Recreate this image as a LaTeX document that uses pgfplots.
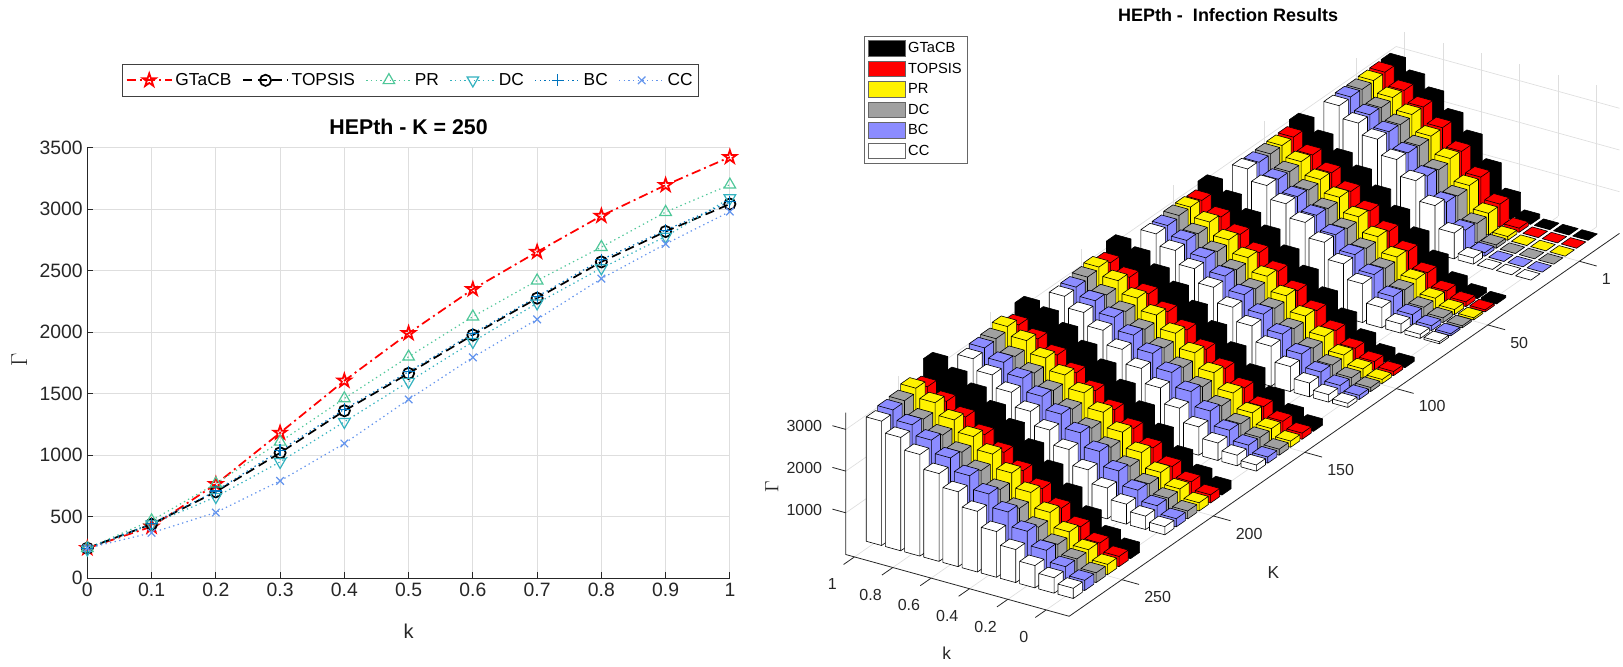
\documentclass[border=0pt]{standalone}
\usepackage{pgfplots}
\pgfplotsset{compat=1.18}
\usepackage{pgfplotstable}
\usepackage{fontspec}
\setmainfont{Liberation Sans}
\definecolor{prc}{rgb}{0.31,0.78,0.60}
\definecolor{dcc}{rgb}{0.20,0.70,0.75}
\definecolor{bcc}{rgb}{0.00,0.45,0.74}
\definecolor{ccc}{rgb}{0.39,0.58,0.93}
\definecolor{barBC}{rgb}{0.55,0.55,1.00}
\definecolor{barDC}{rgb}{0.63,0.63,0.63}
\definecolor{axc}{rgb}{0.15,0.15,0.15}
\definecolor{gridc}{rgb}{0.87,0.87,0.87}

\pgfdeclareplotmark{pentagram}{%
  \pgfmathsetmacro\pr{\pgfplotmarksize}%
  \pgfmathsetmacro\pri{0.382*\pgfplotmarksize}%
  \pgfpathmoveto{\pgfpointpolar{90}{\pr pt}}%
  \pgfpathlineto{\pgfpointpolar{126}{\pri pt}}%
  \pgfpathlineto{\pgfpointpolar{162}{\pr pt}}%
  \pgfpathlineto{\pgfpointpolar{198}{\pri pt}}%
  \pgfpathlineto{\pgfpointpolar{234}{\pr pt}}%
  \pgfpathlineto{\pgfpointpolar{270}{\pri pt}}%
  \pgfpathlineto{\pgfpointpolar{306}{\pr pt}}%
  \pgfpathlineto{\pgfpointpolar{342}{\pri pt}}%
  \pgfpathlineto{\pgfpointpolar{18}{\pr pt}}%
  \pgfpathlineto{\pgfpointpolar{54}{\pri pt}}%
  \pgfpathclose
  \pgfusepathqstroke
}

% ---- data: Gamma for each seed-set size K; rows k = 0,0.1,...,1
% K = 1
\pgfplotstableread{
k   GTaCB TOPSIS PR   DC   BC   CC
0.0 1     1      1    1    1    1
0.1 2     1      2    1    1    1
0.2 5     3      4    3    3    2
0.3 95    100    90   80   85   150
0.4 490   550    520  470  500  620
0.5 1070  1070   1060 1000 1040 1150
0.6 1630  1560   1580 1500 1540 1620
0.7 2020  2000   1990 1950 1970 2000
0.8 2410  2370   2380 2330 2350 2360
0.9 2690  2640   2660 2610 2630 2620
1.0 2960  2950   2940 2920 2930 2910
}\tblA
% K = 50
\pgfplotstableread{
k   GTaCB TOPSIS PR   DC   BC   CC
0.0 50    50     50   49   50   50
0.1 110   115    120  112  114  100
0.2 270   250    265  240  252  220
0.3 660   560    590  530  560  490
0.4 1090  950    1000 920  960  930
0.5 1480  1300   1360 1270 1310 1280
0.6 1840  1660   1710 1620 1660 1670
0.7 2190  2000   2050 1970 2000 2020
0.8 2460  2320   2350 2290 2320 2340
0.9 2775  2620   2650 2600 2610 2650
1.0 3050  2920   2910 2900 2890 2920
}\tblB
% K = 100
\pgfplotstableread{
k   GTaCB TOPSIS PR   DC   BC   CC
0.0 99    99     99   97   99   99
0.1 200   210    225  205  210  180
0.2 430   400    430  380  405  330
0.3 800   700    750  660  710  600
0.4 1180  1050   1110 1000 1060 960
0.5 1570  1400   1470 1360 1410 1320
0.6 1930  1740   1810 1700 1750 1640
0.7 2280  2060   2130 2030 2070 1990
0.8 2550  2370   2430 2340 2380 2310
0.9 2860  2660   2730 2640 2670 2620
1.0 3100  2930   2960 2950 2900 2890
}\tblC
% K = 150
\pgfplotstableread{
k   GTaCB TOPSIS PR   DC   BC   CC
0.0 148   148    148  145  148  148
0.1 290   305    320  300  305  255
0.2 580   530    570  500  535  420
0.3 990   850    920  800  870  680
0.4 1390  1190   1280 1130 1210 1000
0.5 1770  1520   1630 1470 1540 1360
0.6 2130  1860   1970 1810 1870 1700
0.7 2460  2170   2280 2130 2180 2030
0.8 2750  2470   2560 2430 2480 2360
0.9 3030  2740   2850 2700 2750 2660
1.0 3190  2960   3050 3000 2950 2920
}\tblD
% K = 200
\pgfplotstableread{
k   GTaCB TOPSIS PR   DC   BC   CC
0.0 196   196    196  190  196  196
0.1 360   380    400  370  380  320
0.2 680   620    670  585  625  480
0.3 1090  940    1020 880  960  740
0.4 1500  1280   1380 1210 1300 1050
0.5 1890  1600   1730 1540 1620 1410
0.6 2250  1930   2070 1870 1940 1750
0.7 2570  2230   2370 2190 2240 2070
0.8 2870  2530   2650 2480 2550 2400
0.9 3120  2790   2940 2750 2800 2690
1.0 3240  3000   3150 3050 3020 2950
}\tblE
% K = 250
\pgfplotstableread{
k   GTaCB TOPSIS PR   DC   BC   CC
0.0 245   245    245  235  245  245
0.1 420   440    470  440  445  370
0.2 765   703    770  662  710  535
0.3 1183  1020   1110 947  1040 792
0.4 1606  1362   1462 1272 1375 1096
0.5 1992  1666   1801 1598 1680 1454
0.6 2350  1978   2127 1923 1990 1796
0.7 2653  2277   2420 2236 2290 2105
0.8 2946  2572   2692 2521 2590 2436
0.9 3196  2819   2977 2778 2830 2718
1.0 3424  3042   3199 3090 3060 2981
}\tblF

% ---- one 3-D bar (visible faces: top, front, side)
\newcommand\drawbar[4]{%
  \pgfmathsetmacro\xa{#1-0.04}%
  \pgfmathsetmacro\xb{#1+0.04}%
  \pgfmathsetmacro\ya{#2-0.4}%
  \pgfmathsetmacro\yb{#2+0.4}%
  \edef\temp{\noexpand\addplot3[fill=#4,draw=black,line width=0.45pt,line join=round,forget plot] coordinates {(\xa,\yb,0) (\xb,\yb,0) (\xb,\yb,#3) (\xb,\ya,#3) (\xa,\ya,#3) (\xa,\ya,0) (\xa,\yb,0) (\xa,\yb,#3) (\xb,\yb,#3) (\xa,\yb,#3) (\xa,\ya,#3) (\xa,\yb,#3) (\xa,\yb,0)};}%
  \temp}
\newcommand\drawrow[4]{%
  \pgfplotsforeachungrouped \rr in {10,9,8,7,6,5,4,3,2,1,0}{%
    \pgfplotstablegetelem{\rr}{#2}\of#1%
    \let\hh\pgfplotsretval
    \pgfmathsetmacro\xx{\rr/10}%
    \drawbar{\xx}{#3}{\hh}{#4}}}
\newcommand\drawgroup[2]{%
  \pgfmathtruncatemacro\yA{8*#2+0}\drawrow{#1}{GTaCB}{\yA}{black}%
  \pgfmathtruncatemacro\yA{8*#2+1}\drawrow{#1}{TOPSIS}{\yA}{red}%
  \pgfmathtruncatemacro\yA{8*#2+2}\drawrow{#1}{PR}{\yA}{yellow}%
  \pgfmathtruncatemacro\yA{8*#2+3}\drawrow{#1}{DC}{\yA}{barDC}%
  \pgfmathtruncatemacro\yA{8*#2+4}\drawrow{#1}{BC}{\yA}{barBC}%
  \pgfmathtruncatemacro\yA{8*#2+5}\drawrow{#1}{CC}{\yA}{white}%
}
\newcommand\tlfont{\fontsize{12}{14}\selectfont}

\begin{document}
\begin{tikzpicture}

% ================= left: 2-D lines =================
\begin{axis}[
  at={(65.5pt,66.5pt)}, anchor=south west,
  scale only axis, width=481.9pt, height=322.95pt,
  xmin=0, xmax=1, ymin=0, ymax=3500,
  xtick={0,0.1,0.2,0.3,0.4,0.5,0.6,0.7,0.8,0.9,1},
  ytick={0,500,1000,1500,2000,2500,3000,3500},
  axis lines*=left, tick align=inside, major tick length=4.5pt,
  grid=major, grid style={gridc, line width=0.6pt},
  axis line style={axc, line width=0.7pt},
  tick style={axc, line width=0.6pt},
  ticklabel style={font=\fontsize{14.5}{16}\selectfont, text=axc},
  /pgf/number format/assume math mode=true,
  /pgf/number format/1000 sep={},
  scaled ticks=false,
  title={HEPth - K = 250},
  title style={font=\fontsize{16}{18}\selectfont\bfseries, text=black},
  xlabel={k}, xlabel style={font=\fontsize{15}{17}\selectfont, text=axc, at={(0.5,-0.124)}, anchor=center},
  ylabel={$\Gamma$}, ylabel style={font=\fontsize{16}{18}\selectfont, text=axc, at={(-0.106,0.507)}, anchor=center},
  legend columns=6,
  legend style={at={(0.503,1.194)}, anchor=north, draw=black!75, line width=0.6pt,
    font=\fontsize{13}{15}\selectfont, inner xsep=2.5pt, inner ysep=4.5pt,
    /tikz/every even column/.append style={column sep=6pt}},
  legend image code/.code={\draw[mark repeat=2,mark phase=2,#1] plot coordinates {(0pt,0pt) (17pt,0pt) (34pt,0pt)};},
]
\addplot[red, line width=1.3pt, dash pattern=on 7pt off 3pt on 1.5pt off 3pt, mark=pentagram, mark size=5.2pt, mark options={solid}] table[x=k,y=GTaCB]{\tblF};
\addlegendentry{GTaCB}
\addplot[black, line width=1.3pt, dash pattern=on 7pt off 4pt, mark=o, mark size=4.2pt, mark options={solid}] table[x=k,y=TOPSIS]{\tblF};
\addlegendentry{TOPSIS}
\addplot[prc, line width=0.9pt, dash pattern=on 1pt off 2.5pt, mark=triangle, mark size=5pt, mark options={solid}] table[x=k,y=PR]{\tblF};
\addlegendentry{PR}
\addplot[dcc, line width=0.9pt, dash pattern=on 1pt off 2.5pt, mark=triangle, mark size=5pt, mark options={solid, rotate=180}] table[x=k,y=DC]{\tblF};
\addlegendentry{DC}
\addplot[bcc, line width=0.9pt, dash pattern=on 1pt off 2.5pt, mark=+, mark size=4.5pt, mark options={solid}] table[x=k,y=BC]{\tblF};
\addlegendentry{BC}
\addplot[ccc, line width=0.9pt, dash pattern=on 1pt off 2.5pt, mark=x, mark size=4pt, mark options={solid}] table[x=k,y=CC]{\tblF};
\addlegendentry{CC}
\end{axis}

% ================= right: 3-D bars =================
\begin{axis}[
  at={(1188.75pt,324pt)}, anchor=origin,
  x={(-143.78pt,39.75pt)}, y={(-8.58pt,-5.97pt)}, z={(0pt,0.031275pt)},
  xmin=-0.12, xmax=1.045, ymin=-1, ymax=47.1, zmin=0, zmax=3400,
  xtick={0,0.2,0.4,0.6,0.8,1},
  ytick={2.5,10.5,18.5,26.5,34.5,42.5},
  ztick={1000,2000,3000},
  xticklabels={}, yticklabels={}, zticklabels={},
  major tick length=0pt,
  grid=major, grid style={gridc, line width=0.5pt},
  axis line style={draw=none},
  clip=false,
]
% axis lines and ticks (MATLAB style, on the front edges)
\draw[axc, line width=0.6pt] (axis cs:1.045,47.1,3400) -- (axis cs:1.045,47.1,0) -- (axis cs:-0.12,47.1,0) -- (axis cs:-0.12,-1,0);
\pgfplotsinvokeforeach{0,0.2,0.4,0.6,0.8,1}{%
  \draw[axc, line width=0.6pt] (axis cs:#1,47.1,0) -- (axis cs:#1,48.05,0);
  \node[font=\tlfont, text=axc, xshift=-16.7pt, yshift=-20.4pt] at (axis cs:#1,47.1,0) {#1};
}
\foreach \yy/\lab in {2.5/1,10.5/50,18.5/100,26.5/150,34.5/200,42.5/250}{%
  \edef\temp{\noexpand\draw[axc, line width=0.6pt] (axis cs:-0.12,\yy,0) -- (axis cs:-0.21,\yy,0);
  \noexpand\node[font=\noexpand\tlfont, text=axc, anchor=west, xshift=13.3pt, yshift=-13.2pt] at (axis cs:-0.12,\yy,0) {\lab};}%
  \temp
}
\pgfplotsinvokeforeach{1000,2000,3000}{%
  \draw[axc, line width=0.6pt] (axis cs:1.045,47.1,#1) -- (axis cs:1.115,47.1,#1);
  \node[font=\tlfont, text=axc, anchor=east, xshift=-14.25pt, yshift=2.5pt] at (axis cs:1.045,47.1,#1) {#1};
}
\drawgroup{\tblA}{0}
\drawgroup{\tblB}{1}
\drawgroup{\tblC}{2}
\drawgroup{\tblD}{3}
\drawgroup{\tblE}{4}
\drawgroup{\tblF}{5}
\end{axis}

\node[font=\fontsize{13}{15}\selectfont, text=axc] at (710pt,10.2pt) {k};
\node[font=\fontsize{13}{15}\selectfont, text=axc] at (955.1pt,70.7pt) {K};
\node[font=\fontsize{14}{16}\selectfont, text=axc, rotate=90] at (578.8pt,135.2pt) {$\Gamma$};
\node[font=\fontsize{13.5}{16}\selectfont\bfseries] at (921pt,489pt) {HEPth -\ \ Infection Results};

% ================= legend of the bar chart =================
\begin{axis}[
  at={(648pt,473.25pt)}, anchor=north west,
  hide axis, scale only axis, width=10pt, height=10pt,
  xmin=0, xmax=1, ymin=0, ymax=1,
  legend cell align=left,
  legend style={at={(0,1)}, anchor=north west, draw=black!60, line width=0.6pt,
    font=\fontsize{11}{13}\selectfont, row sep=2.2pt, inner sep=2.5pt},
  legend image code/.code={\draw[#1,draw=black!60,line width=0.6pt] (0pt,-5.9pt) rectangle (27.75pt,5.9pt);},
]
\addlegendimage{fill=black}\addlegendentry{GTaCB}
\addlegendimage{fill=red}\addlegendentry{TOPSIS}
\addlegendimage{fill=yellow}\addlegendentry{PR}
\addlegendimage{fill=barDC}\addlegendentry{DC}
\addlegendimage{fill=barBC}\addlegendentry{BC}
\addlegendimage{fill=white}\addlegendentry{CC}
\end{axis}

\pgfresetboundingbox
\path[use as bounding box] (0,0) rectangle (1217.25pt,500.25pt);
\end{tikzpicture}
\end{document}
